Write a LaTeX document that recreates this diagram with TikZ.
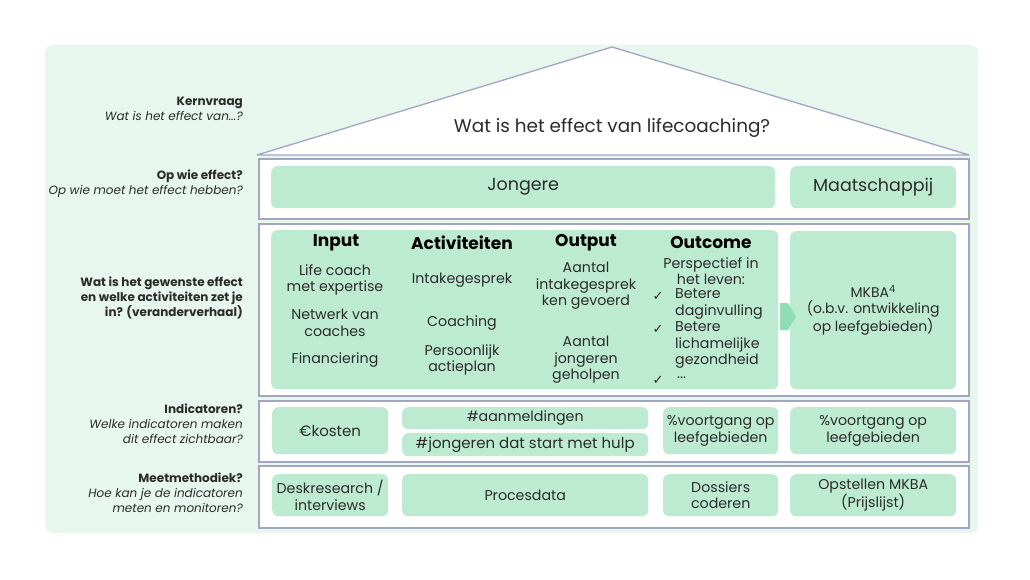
\documentclass[tikz,border=0pt]{standalone}
\usepackage{fontspec}
\setmainfont{Poppins}
\newfontfamily\symfont{DejaVu Sans}
\definecolor{bgc}{HTML}{E7F7ED}
\definecolor{cellc}{HTML}{BDEBD2}
\definecolor{framec}{HTML}{A2A6C0}
\definecolor{txtc}{HTML}{2B2B2B}
\definecolor{arrc}{HTML}{8FDDB2}
\newcommand\bx[7]{\node[#6, anchor=north west, minimum width={#4-#2}, minimum height={#5-#3}, inner sep=0pt] (#1) at (#2,#3) {#7};}
\begin{document}
\begin{tikzpicture}[x=1pt,y=-1pt,
  cellbox/.style={fill=cellc, rounded corners=6pt, text=txtc, align=center, font=\fontsize{14.2}{16.5}\selectfont},
  rowbox/.style={draw=framec, line width=1.8pt, fill=white},
  lbl/.style={anchor=east, align=right, text=txtc, inner sep=0pt, font=\fontsize{12}{15}\selectfont},
  head/.style={text=black, font=\fontsize{17}{19}\selectfont\bfseries, inner sep=0pt},
  ctext/.style={text=txtc, align=center, font=\fontsize{14.2}{16.5}\selectfont, inner sep=0pt},
  ltext/.style={text=txtc, align=left, font=\fontsize{14.2}{16.5}\selectfont, inner sep=0pt},
  chk/.style={text=txtc, font=\symfont\fontsize{13}{15}\selectfont, inner sep=0pt}]
\useasboundingbox (0,0) rectangle (1030,580);
\fill[white] (0,0) rectangle (1030,580);
\fill[bgc, rounded corners=8pt] (45,45) rectangle (978,533);
% roof
\coordinate (rl) at (257,155);
\coordinate (rt) at (612,47);
\coordinate (rr) at (969,155);
\draw[framec, line width=1.3pt, fill=white, line join=round] (rl) -- (rt) -- (rr) -- cycle;
\node[text=txtc, font=\fontsize{18.4}{21}\selectfont, inner sep=0pt] (title) at (612,128) {Wat is het effect van lifecoaching?};
% rows
\bx{row1}{258}{158}{968}{218}{rowbox}{}
\bx{row2}{258}{223}{968}{395}{rowbox}{}
\bx{row3}{258}{400}{968}{461}{rowbox}{}
\bx{row4}{258}{465}{968}{527}{rowbox}{}
% row 1
\bx{jong}{271}{166}{775}{208}{cellbox, font=\fontsize{17.5}{20}\selectfont}{Jongere}
\bx{maat}{790}{166}{956}{208}{cellbox, font=\fontsize{17.5}{20}\selectfont}{Maatschappij}
% row 2
\bx{toc}{271}{230}{778}{389}{cellbox}{}
\bx{mkba}{790}{231}{956}{389}{cellbox, font=\fontsize{14}{16.5}\selectfont}{MKBA\textsuperscript{4}\\(o.b.v. ontwikkeling\\op leefgebieden)}
\fill[arrc] (780,303) -- (788,303) -- (796,316.5) -- (788,330) -- (780,330) -- cycle;
\node[head] (hinput) at (336,243) {Input};
\node[head] (hact) at (462,243) {Activiteiten};
\node[head] (hout) at (586,243) {Output};
\node[head] (houtc) at (711,243) {Outcome};
\node[ctext] (in1) at (335,280) {Life coach\\met expertise};
\node[ctext] (in2) at (335,323) {Netwerk van\\coaches};
\node[ctext] (in3) at (335,360) {Financiering};
\node[ctext] (ac1) at (462,280) {Intakegesprek};
\node[ctext] (ac2) at (462,323) {Coaching};
\node[ctext] (ac3) at (462,360) {Persoonlijk\\actieplan};
\node[ctext] (ou1) at (586,286) {Aantal\\intakegesprek\\ken gevoerd};
\node[ctext] (ou2) at (586,360) {Aantal\\jongeren\\geholpen};
\node[ctext] (oc0) at (711,271) {Perspectief in\\het leven:};
\node[chk] (c1) at (658,296) {✓};
\node[chk] (c2) at (658,329) {✓};
\node[chk] (c3) at (658,380) {✓};
\node[ltext, anchor=west] (oc1) at (675,304) {Betere\\daginvulling};
\node[ltext, anchor=west] (oc2) at (675,345) {Betere\\lichamelijke\\gezondheid};
\node[ltext, anchor=west] (oc3) at (677,378) {...};
% row 3
\bx{kost}{272}{407}{388}{454}{cellbox, font=\fontsize{15}{17}\selectfont}{€kosten}
\bx{aanm}{402}{407}{648}{429}{cellbox}{\#aanmeldingen}
\bx{jstart}{402}{433}{648}{456}{cellbox, font=\fontsize{15}{17}\selectfont}{\#jongeren dat start met hulp}
\bx{voort1}{663}{407}{778}{454}{cellbox}{\%voortgang op\\leefgebieden}
\bx{voort2}{790}{407}{956}{454}{cellbox}{\%voortgang op\\leefgebieden}
% row 4
\bx{desk}{272}{474}{388}{516}{cellbox}{Deskresearch /\\interviews}
\bx{proc}{402}{474}{648}{516}{cellbox}{Procesdata}
\bx{doss}{663}{474}{778}{516}{cellbox}{Dossiers\\coderen}
\bx{opst}{790}{474}{956}{516}{cellbox}{Opstellen MKBA\\(Prijslijst)}
% left labels
\node[lbl] (l1) at (243,109) {\textbf{Kernvraag}\\\textit{Wat is het effect van...?}};
\node[lbl] (l2) at (243,184) {\textbf{Op wie effect?}\\\textit{Op wie moet het effect hebben?}};
\node[lbl, font=\fontsize{12}{15}\selectfont\bfseries] (l3) at (243,298) {Wat is het gewenste effect\\en welke activiteiten zet je\\in? (veranderverhaal)};
\node[lbl] (l4) at (243,424) {\textbf{Indicatoren?}\\\textit{Welke indicatoren maken}\\\textit{dit effect zichtbaar?}};
\node[lbl] (l5) at (243,493) {\textbf{Meetmethodiek?}\\\textit{Hoe kan je de indicatoren}\\\textit{meten en monitoren?}};
\end{tikzpicture}
\end{document}
